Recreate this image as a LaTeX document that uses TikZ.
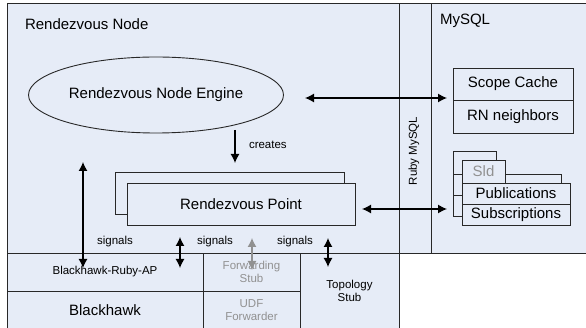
\documentclass[tikz,border=0pt]{standalone}
\usepackage{fontspec}
\setmainfont{Liberation Sans}
\usetikzlibrary{arrows.meta,shapes.geometric}
\definecolor{panel}{RGB}{230,236,247}
\definecolor{edge}{RGB}{40,40,40}
\definecolor{faded}{RGB}{145,145,145}

\begin{document}
\begin{tikzpicture}[x=1pt,y=-1pt,
  frame/.style={draw=edge,line width=0.9pt,fill=panel},
  box/.style={draw=edge,line width=0.9pt,fill=panel,inner sep=0pt,outer sep=0pt,align=center},
  txt/.style={inner sep=0pt,outer sep=0pt},
  big/.style={font=\fontsize{15}{18}\selectfont},
  small/.style={font=\fontsize{11.5}{13}\selectfont},
  dual/.style={{Latex[length=9pt,width=9pt]}-{Latex[length=9pt,width=9pt]},line width=1.2pt},
  single/.style={-{Latex[length=9pt,width=9pt]},line width=1.2pt},
]
\useasboundingbox (0,0) rectangle (586,328);

% upper panels: Rendezvous Node, Ruby MySQL strip, MySQL
\draw[frame] (7,3) rectangle (399,253);
\draw[frame] (399,3) rectangle (431,253);
\draw[frame] (431,3) rectangle (589,253);

% lower row of components
\node[box,small,minimum width=196,minimum height=38] (bra) at (105,272) {Blackhawk-Ruby-AP};
\node[box,big,minimum width=196,minimum height=38] (bh) at (105,310) {Blackhawk};
\node[box,small,text=faded,minimum width=97,minimum height=38] (fwd) at (251.5,272) {Forwarding\\Stub};
\node[box,small,text=faded,minimum width=97,minimum height=38] (udf) at (251.5,310) {UDF\\Forwarder};
\node[box,small,minimum width=99,minimum height=76] (topo) at (349.5,291) {Topology\\Stub};

% panel titles
\node[txt,big,anchor=base west] (rnlabel) at (25,30) {Rendezvous Node};
\node[txt,big,anchor=base west] (mysqllabel) at (440,25) {MySQL};
\node[txt,small,rotate=90] (rubymysql) at (414,151) {Ruby MySQL};

% engine and rendezvous points
\node[ellipse,draw=edge,line width=0.9pt,fill=panel,inner sep=0pt,minimum width=255,minimum height=76,big] (engine) at (156,95) {Rendezvous Node Engine};
\node[box,minimum width=229,minimum height=42] (rpback) at (229.5,193) {};
\node[box,big,minimum width=228,minimum height=42] (rp) at (241,204) {Rendezvous Point};

% MySQL tables
\node[box,big,minimum width=120,minimum height=32] (scope) at (513,84) {Scope Cache};
\node[box,big,minimum width=120,minimum height=33] (rnn) at (513,116.5) {RN neighbors};

\node[box,minimum width=43,minimum height=23] (sldback) at (474.5,162.5) {};
\node[box,minimum width=108,minimum height=21] (pubback) at (507,184.5) {};
\node[box,minimum width=108,minimum height=21] (subback) at (507,205.5) {};
\node[box,big,text=faded,minimum width=43,minimum height=23] (sld) at (483.5,171.5) {Sld};
\node[box,big,minimum width=108,minimum height=21] (pub) at (516,193.5) {Publications};
\node[box,big,minimum width=108,minimum height=21] (sub) at (516,214.5) {Subscriptions};

% signal labels
\node[txt,small,anchor=base] (sig1) at (115,245) {signals};
\node[txt,small,anchor=base] (sig2) at (215,245) {signals};
\node[txt,small,anchor=base] (sig3) at (295,245) {signals};
\node[txt,small,anchor=west] (creates) at (249,145) {creates};

% connector end points
\coordinate (engR) at (305,98);
\coordinate (scopeL) at (447,98);
\coordinate (rpR) at (362,209);
\coordinate (subL) at (447,209);
\coordinate (crTop) at (235,130);
\coordinate (crBot) at (235,163);
\coordinate (s1Top) at (83,162);
\coordinate (s1Bot) at (83,268);
\coordinate (s2Top) at (180,237);
\coordinate (s2Bot) at (180,268);
\coordinate (s3Top) at (252,238);
\coordinate (s3Bot) at (252,270);
\coordinate (s4Top) at (328,238);
\coordinate (s4Bot) at (328,267);

% connectors
\draw[dual] (engR) -- (scopeL);
\draw[dual] (rpR) -- (subL);
\draw[single] (crTop) -- (crBot);
\draw[dual] (s1Top) -- (s1Bot);
\draw[dual] (s2Top) -- (s2Bot);
\draw[dual,draw=faded,fill=faded] (s3Top) -- (s3Bot);
\draw[dual] (s4Top) -- (s4Bot);
\end{tikzpicture}
\end{document}
